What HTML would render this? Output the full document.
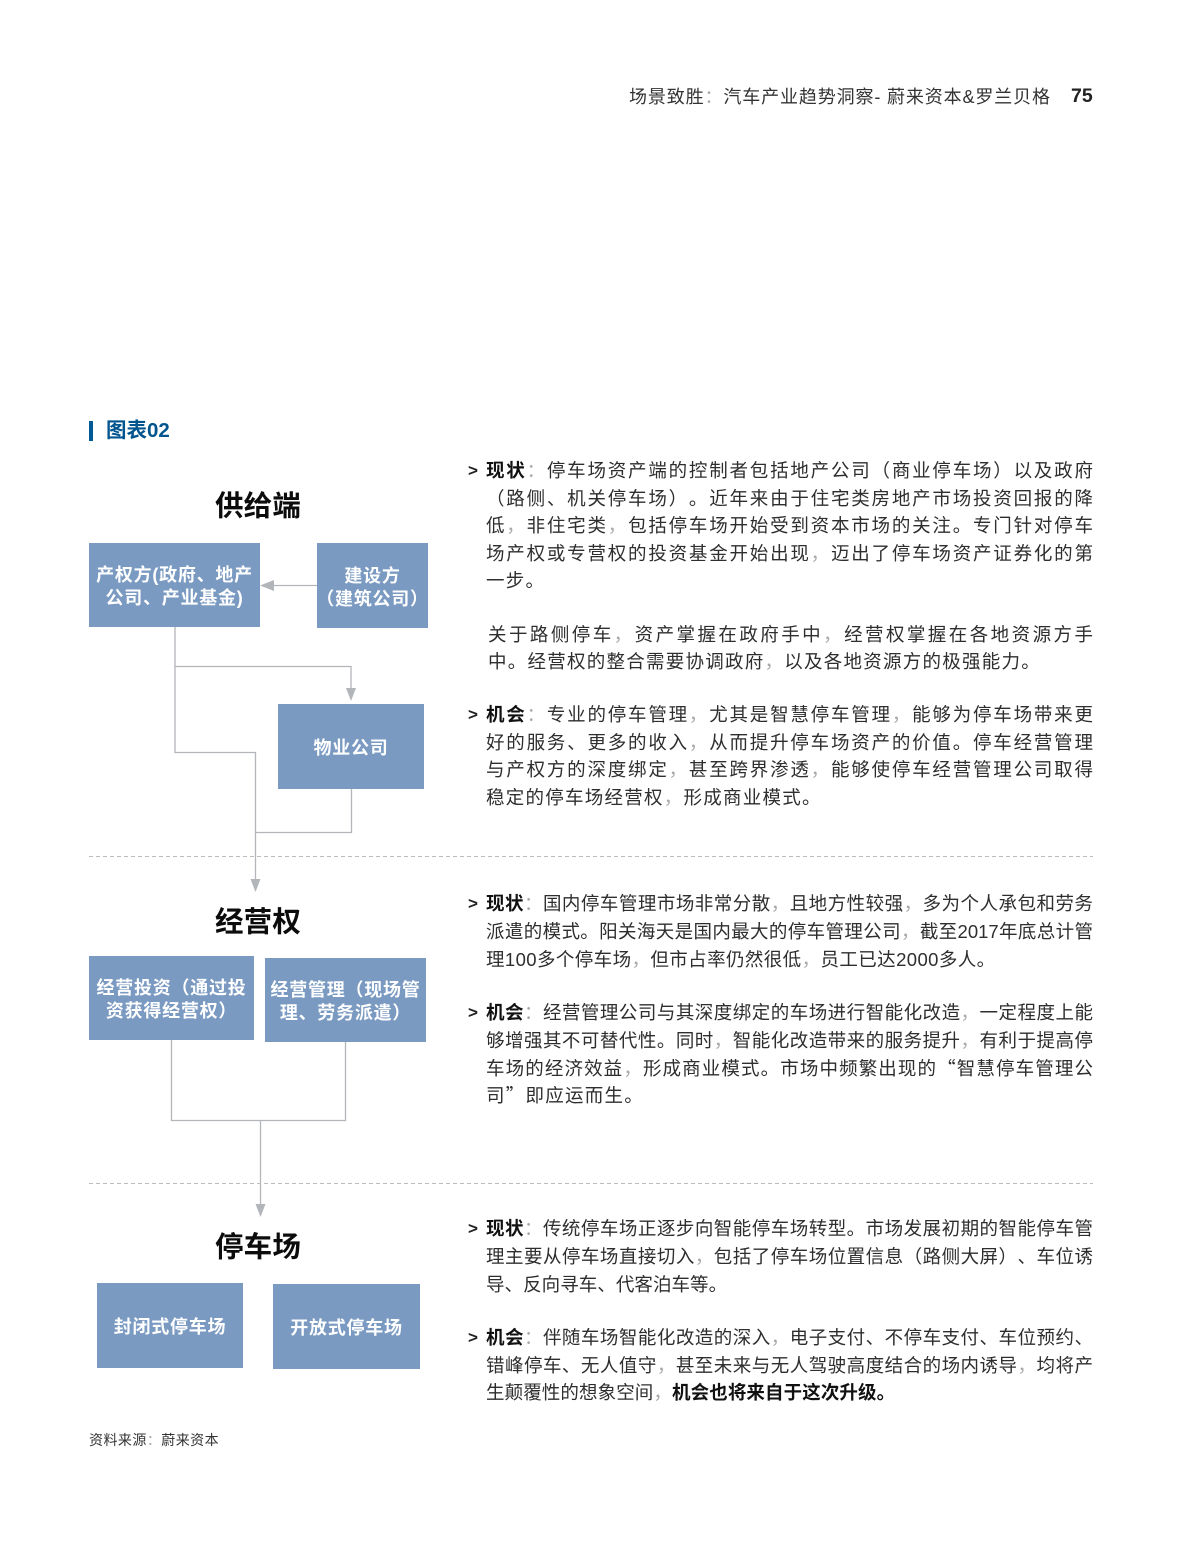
<!DOCTYPE html>
<html lang="zh-CN">
<head>
<meta charset="utf-8">
<title>图表02</title>
<style>
html,body{margin:0;padding:0;background:#fff;}
body{width:1181px;height:1565px;position:relative;overflow:hidden;font-family:"Liberation Sans","Noto Sans CJK SC",sans-serif;text-spacing-trim:space-all;}
svg{position:absolute;left:0;top:0;}
.l{position:absolute;left:486px;width:607px;height:28px;line-height:28px;font-size:18.5px;color:#2e2e2e;text-align:justify;text-align-last:justify;text-justify:inter-character;white-space:normal;transform:translateY(1px);}
.e{text-align:left;text-align-last:left;letter-spacing:1.25px;width:640px;}
.l b{color:#111;}
.l i,.hd i{font-style:normal;color:#aaa;}
.l u{text-decoration:none;font-family:"Noto Sans CJK SC",sans-serif;}
.m{position:absolute;left:468px;height:28px;line-height:28px;font-size:17px;font-weight:700;color:#222;transform:translateY(1px);}
.b{position:absolute;box-sizing:border-box;padding-top:4px;background:#7a9ac2;color:#fff;font-weight:700;font-size:18px;line-height:23px;letter-spacing:.75px;display:flex;align-items:center;justify-content:center;text-align:center;white-space:nowrap;}
.h{position:absolute;left:158px;width:200px;text-align:center;font-size:28.5px;font-weight:700;line-height:40px;color:#0c0c0c;letter-spacing:.2px;transform:translateY(1.500px);}
</style>
</head>
<body>
<div class="hd" style="position:absolute;left:629px;top:85px;line-height:24px;font-size:18px;color:#333;letter-spacing:.87px;white-space:nowrap;">场景致胜<i>：</i>汽车产业趋势洞察- 蔚来资本&amp;罗兰贝格</div>
<div style="position:absolute;left:1071px;top:84px;line-height:24px;font-size:19.5px;font-weight:700;color:#222;">75</div>

<div style="position:absolute;left:89px;top:421px;width:4px;height:20px;background:#005a96;"></div>
<div style="position:absolute;left:106px;top:419px;line-height:24px;font-size:20.5px;font-weight:700;color:#00558f;white-space:nowrap;">图表02</div>

<svg width="1181" height="1565" viewBox="0 0 1181 1565">
  <g fill="none" stroke="#b2b5ba" stroke-width="1.3">
    <path d="M317 585.500H272"/>
    <path d="M175 627V752.500H255.500V881"/>
    <path d="M175 666.500H351V689"/>
    <path d="M351.500 789V832.500H255.500"/>
    <path d="M171.500 1040V1120.500H345.500V1042"/>
    <path d="M260.500 1120.500V1206"/>
  </g>
  <g fill="#b2b5ba">
    <path d="M260 585.500L274 580V591Z"/>
    <path d="M351 701L346 688H356Z"/>
    <path d="M255.500 892L250.500 879H260.500Z"/>
    <path d="M260.500 1217L255.500 1204H265.500Z"/>
  </g>
  <g stroke="#bcbcbc" stroke-width="1" stroke-dasharray="4 3">
    <path d="M89 856.500H1093"/>
    <path d="M89 1183.500H1093"/>
  </g>
</svg>

<div class="h" style="top:485px;">供给端</div>
<div class="b" style="left:89px;top:543px;width:171px;height:84px;">产权方(政府、地产<br>公司、产业基金)</div>
<div class="b" style="left:317px;top:543px;width:111px;height:85px;">建设方<br>（建筑公司）</div>
<div class="b" style="left:278px;top:704px;width:146px;height:85px;">物业公司</div>

<div class="h" style="top:901px;">经营权</div>
<div class="b" style="left:89px;top:956px;width:165px;height:84px;">经营投资（通过投<br>资获得经营权）</div>
<div class="b" style="left:265px;top:958px;width:161px;height:84px;">经营管理（现场管<br>理、劳务派遣）</div>

<div class="h" style="top:1226px;">停车场</div>
<div class="b" style="left:97px;top:1283px;width:146px;height:85px;">封闭式停车场</div>
<div class="b" style="left:273px;top:1284px;width:147px;height:85px;">开放式停车场</div>

<div class="m" style="top:456px;">&gt;</div>
<div class="l" style="top:456px;"><b>现状</b><i>：</i>停车场资产端的控制者包括地产公司（商业停车场）以及政府</div>
<div class="l" style="top:484px;">（路侧、机关停车场）。近年来由于住宅类房地产市场投资回报的降</div>
<div class="l" style="top:511px;">低<i>，</i>非住宅类<i>，</i>包括停车场开始受到资本市场的关注。专门针对停车</div>
<div class="l" style="top:539px;">场产权或专营权的投资基金开始出现<i>，</i>迈出了停车场资产证券化的第</div>
<div class="l e" style="top:566px;">一步。</div>
<div class="l" style="top:620px;left:488px;width:605px;">关于路侧停车<i>，</i>资产掌握在政府手中<i>，</i>经营权掌握在各地资源方手</div>
<div class="l e" style="top:647px;left:488px;">中。经营权的整合需要协调政府<i>，</i>以及各地资源方的极强能力。</div>

<div class="m" style="top:700px;">&gt;</div>
<div class="l" style="top:700px;"><b>机会</b><i>：</i>专业的停车管理<i>，</i>尤其是智慧停车管理<i>，</i>能够为停车场带来更</div>
<div class="l" style="top:728px;">好的服务、更多的收入<i>，</i>从而提升停车场资产的价值。停车经营管理</div>
<div class="l" style="top:755px;">与产权方的深度绑定<i>，</i>甚至跨界渗透<i>，</i>能够使停车经营管理公司取得</div>
<div class="l e" style="top:783px;">稳定的停车场经营权<i>，</i>形成商业模式。</div>

<div class="m" style="top:889px;">&gt;</div>
<div class="l" style="top:889px;"><b>现状</b><i>：</i>国内停车管理市场非常分散<i>，</i>且地方性较强<i>，</i>多为个人承包和劳务</div>
<div class="l" style="top:917px;">派遣的模式。阳关海天是国内最大的停车管理公司<i>，</i>截至2017年底总计管</div>
<div class="l e" style="top:945px;letter-spacing:.4px;">理100多个停车场<i>，</i>但市占率仍然很低<i>，</i>员工已达2000多人。</div>

<div class="m" style="top:998px;">&gt;</div>
<div class="l" style="top:998px;"><b>机会</b><i>：</i>经营管理公司与其深度绑定的车场进行智能化改造<i>，</i>一定程度上能</div>
<div class="l" style="top:1026px;">够增强其不可替代性。同时<i>，</i>智能化改造带来的服务提升<i>，</i>有利于提高停</div>
<div class="l" style="top:1053px;">车场的经济效益<i>，</i>形成商业模式。市场中频繁出现的<u>“</u>智慧停车管理公</div>
<div class="l e" style="top:1080px;">司<u>”</u>即应运而生。</div>

<div class="m" style="top:1214px;">&gt;</div>
<div class="l" style="top:1214px;"><b>现状</b><i>：</i>传统停车场正逐步向智能停车场转型。市场发展初期的智能停车管</div>
<div class="l" style="top:1242px;">理主要从停车场直接切入<i>，</i>包括了停车场位置信息（路侧大屏）、车位诱</div>
<div class="l e" style="top:1270px;letter-spacing:.05px;">导、反向寻车、代客泊车等。</div>

<div class="m" style="top:1323px;">&gt;</div>
<div class="l" style="top:1323px;"><b>机会</b><i>：</i>伴随车场智能化改造的深入<i>，</i>电子支付、不停车支付、车位预约、</div>
<div class="l" style="top:1351px;">错峰停车、无人值守<i>，</i>甚至未来与无人驾驶高度结合的场内诱导<i>，</i>均将产</div>
<div class="l e" style="top:1378px;letter-spacing:.1px;">生颠覆性的想象空间<i>，</i><b>机会也将来自于这次升级。</b></div>

<div class="hd" style="position:absolute;left:89px;top:1430px;line-height:20px;font-size:14px;color:#333;letter-spacing:.45px;white-space:nowrap;">资料来源<i>：</i>蔚来资本</div>
</body>
</html>
